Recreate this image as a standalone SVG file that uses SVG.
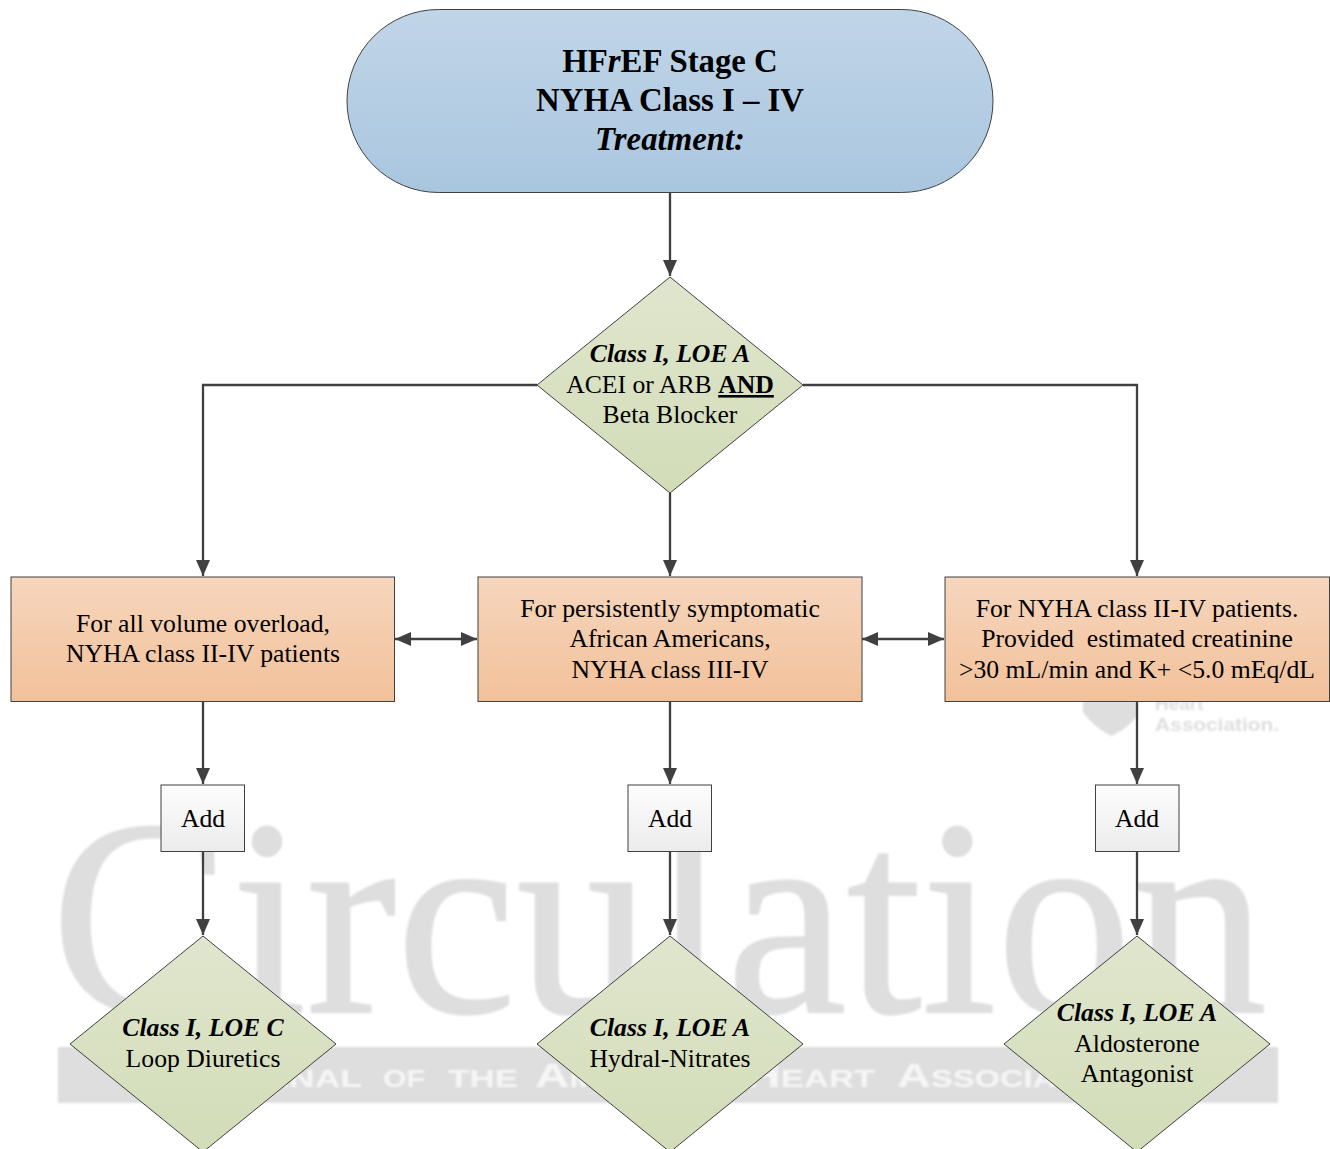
<svg xmlns="http://www.w3.org/2000/svg" width="1330" height="1149" viewBox="0 0 1330 1149">
<style>
text{font-family:"Liberation Serif","Times New Roman",serif;fill:#000;text-anchor:middle}
.t{font-size:25.700px}
.b{font-size:32.800px;font-weight:bold}
.bi{font-style:italic;font-weight:bold}
.node{stroke:#404040;stroke-width:1}
.con{fill:none;stroke:#404040;stroke-width:2.300}
.wm{fill:#dedede}
.ws{font-family:"Liberation Sans",sans-serif;font-weight:bold;text-anchor:start}
.wb{fill:#f6f6f6;font-size:33px;font-variant:small-caps}
</style>
<defs>
<linearGradient id="gBlue" x1="0" y1="0" x2="0" y2="1"><stop offset="0" stop-color="#c1d5e8"/><stop offset="1" stop-color="#a9c6df"/></linearGradient>
<linearGradient id="gGreen" x1="0" y1="0" x2="0" y2="1"><stop offset="0" stop-color="#e0e6ce"/><stop offset="1" stop-color="#d2dcb7"/></linearGradient>
<linearGradient id="gOrange" x1="0" y1="0" x2="0" y2="1"><stop offset="0" stop-color="#f6d6bd"/><stop offset="1" stop-color="#f2c19a"/></linearGradient>
<linearGradient id="gGrey" x1="0" y1="0" x2="0" y2="1"><stop offset="0" stop-color="#fdfdfd"/><stop offset="1" stop-color="#ececec"/></linearGradient>
<marker id="arr" markerUnits="userSpaceOnUse" markerWidth="17" markerHeight="16" refX="16" refY="7" orient="auto-start-reverse"><path d="M0 0L16 7L0 14Z" fill="#404040"/></marker>
<filter id="soft" x="-5%" y="-5%" width="110%" height="110%"><feGaussianBlur stdDeviation="0.800"/></filter>
</defs>
<g id="watermark" filter="url(#soft)">
<text class="wm" x="51" y="1012" stroke="#dedede" stroke-width="2" style="text-anchor:start;font-size:280px" textLength="1216" lengthAdjust="spacingAndGlyphs">Circulation</text>
<rect class="wm" x="58" y="1047" width="1220" height="56"/>
<text class="ws wb" x="182" y="1087" textLength="180" lengthAdjust="spacingAndGlyphs">Journal</text>
<text class="ws wb" x="383" y="1087" textLength="42" lengthAdjust="spacingAndGlyphs">of</text>
<text class="ws wb" x="448" y="1087" textLength="70" lengthAdjust="spacingAndGlyphs">the</text>
<text class="ws wb" x="535" y="1087" textLength="190" lengthAdjust="spacingAndGlyphs">American</text>
<text class="ws wb" x="745" y="1087" textLength="130" lengthAdjust="spacingAndGlyphs">Heart</text>
<text class="ws wb" x="897" y="1087" textLength="235" lengthAdjust="spacingAndGlyphs">Association</text>
<path class="wm" d="M1083 701H1137V716Q1128 728 1112 736Q1094 728 1083 712Z"/>
<text class="wm ws" x="1155" y="710" style="font-size:19px">Heart</text>
<text class="wm ws" x="1155" y="731" style="font-size:19px" textLength="124" lengthAdjust="spacingAndGlyphs">Association.</text>
</g>
<g id="connectors" class="con">
<path d="M670 193V276" marker-end="url(#arr)"/>
<path d="M537 385H203V576" marker-end="url(#arr)"/>
<path d="M803 385H1137V576" marker-end="url(#arr)"/>
<path d="M670 493V576" marker-end="url(#arr)"/>
<path d="M395 639H477" marker-start="url(#arr)" marker-end="url(#arr)"/>
<path d="M862 639H944" marker-start="url(#arr)" marker-end="url(#arr)"/>
<path d="M203 701V784" marker-end="url(#arr)"/>
<path d="M670 701V784" marker-end="url(#arr)"/>
<path d="M1137 701V784" marker-end="url(#arr)"/>
<path d="M203 852V935" marker-end="url(#arr)"/>
<path d="M670 852V935" marker-end="url(#arr)"/>
<path d="M1137 852V935" marker-end="url(#arr)"/>
</g>
<g id="n-start"><rect class="node" x="347" y="9.500" width="646" height="183" rx="91.500" fill="url(#gBlue)"/>
<text class="b" x="670" y="72">HF<tspan font-style="italic">r</tspan>EF Stage C</text>
<text class="b" x="670" y="111">NYHA Class I – IV</text>
<text class="b" x="670" y="150" font-style="italic">Treatment:</text></g>
<g id="n-d0"><path class="node" d="M670 277L803 385L670 493L537 385Z" fill="url(#gGreen)"/>
<text class="t bi" x="670" y="362">Class I, LOE A</text>
<text class="t" x="670" y="393">ACEI or ARB <tspan font-weight="bold" text-decoration="underline">AND</tspan></text>
<text class="t" x="670" y="423">Beta Blocker</text></g>
<g id="n-b1"><rect class="node" x="11" y="577" width="383.500" height="124.500" fill="url(#gOrange)"/>
<text class="t" x="203" y="632">For all volume overload,</text>
<text class="t" x="203" y="662">NYHA class II-IV patients</text></g>
<g id="n-b2"><rect class="node" x="478" y="577" width="384" height="124.500" fill="url(#gOrange)"/>
<text class="t" x="670" y="617">For persistently symptomatic</text>
<text class="t" x="670" y="647">African Americans,</text>
<text class="t" x="670" y="678">NYHA class III-IV</text></g>
<g id="n-b3"><rect class="node" x="945" y="577" width="384.500" height="124.500" fill="url(#gOrange)"/>
<text class="t" x="1137" y="617">For NYHA class II-IV patients.</text>
<text class="t" x="1137" y="647" xml:space="preserve">Provided  estimated creatinine</text>
<text class="t" x="1137" y="678">&gt;30 mL/min and K+ &lt;5.0 mEq/dL</text></g>
<g id="n-a1"><rect class="node" x="161" y="785" width="83.500" height="66.500" fill="url(#gGrey)"/><text class="t" x="203" y="827">Add</text></g>
<g id="n-a2"><rect class="node" x="628" y="785" width="83.500" height="66.500" fill="url(#gGrey)"/><text class="t" x="670" y="827">Add</text></g>
<g id="n-a3"><rect class="node" x="1095.500" y="785" width="83.500" height="66.500" fill="url(#gGrey)"/><text class="t" x="1137" y="827">Add</text></g>
<g id="n-d1"><path class="node" d="M203 936L336 1044L203 1152L70 1044Z" fill="url(#gGreen)"/>
<text class="t bi" x="203" y="1036">Class I, LOE C</text>
<text class="t" x="203" y="1067">Loop Diuretics</text></g>
<g id="n-d2"><path class="node" d="M670 936L803 1044L670 1152L537 1044Z" fill="url(#gGreen)"/>
<text class="t bi" x="670" y="1036">Class I, LOE A</text>
<text class="t" x="670" y="1067">Hydral-Nitrates</text></g>
<g id="n-d3"><path class="node" d="M1137 936L1270 1044L1137 1152L1004 1044Z" fill="url(#gGreen)"/>
<text class="t bi" x="1137" y="1021">Class I, LOE A</text>
<text class="t" x="1137" y="1052">Aldosterone</text>
<text class="t" x="1137" y="1082">Antagonist</text></g>
</svg>
